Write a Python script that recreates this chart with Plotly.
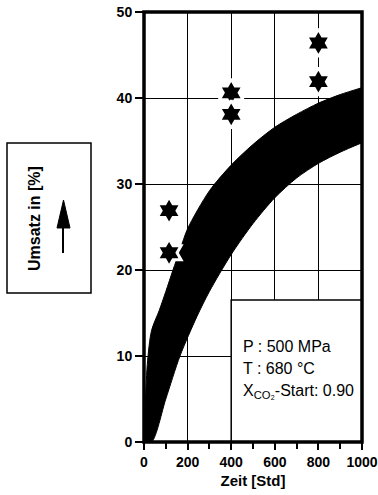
import plotly.graph_objects as go

# ---- data ----
band_upper_x = [0, 15, 35, 70, 100, 133, 165, 200, 300, 400, 500, 600, 700, 800, 900, 1000]
band_upper_y = [0, 9, 13, 15.3, 17.5, 20, 22.3, 24.8, 29.2, 32.2, 34.6, 36.6, 38.1, 39.4, 40.4, 41.2]
band_lower_x = [0, 35, 100, 165, 243, 300, 400, 500, 600, 700, 800, 900, 1000]
band_lower_y = [0, 0, 5, 10, 14.6, 17.5, 21.8, 25.4, 28.4, 30.7, 32.4, 33.7, 34.8]

star_x = [115, 115, 400, 400, 800, 800]
star_y = [26.9, 22.0, 40.6, 38.1, 46.4, 41.9]

x_ticks = [0, 200, 400, 600, 800, 1000]
y_ticks = [0, 10, 20, 30, 40, 50]

info_lines = ["P : 500 MPa", "T : 680 °C", "X<sub>CO₂</sub>-Start: 0.90"]

# ---- layout geometry (pixels) ----
W, H = 378, 495
L, R, T, B = 144, 16, 12, 53
PW, PH = W - L - R, H - T - B

def pxx(px):
    return (px - L) / PW

def pxy(py):
    return (H - B - py) / PH

FONT = "Liberation Sans, Arial, sans-serif"

fig = go.Figure()
fig.add_trace(go.Scatter(
    x=band_lower_x, y=band_lower_y, mode="lines",
    line=dict(color="black", width=1, shape="spline", smoothing=0.8),
    hoverinfo="skip", showlegend=False))
fig.add_trace(go.Scatter(
    x=band_upper_x, y=band_upper_y, mode="lines", fill="tonexty",
    fillcolor="black", line=dict(color="black", width=1, shape="spline", smoothing=0.8),
    hoverinfo="skip", showlegend=False))
fig.add_trace(go.Scatter(
    x=star_x, y=star_y, mode="markers",
    marker=dict(symbol="hexagram", size=21, color="black",
                line=dict(color="white", width=3)),
    showlegend=False))

shapes = []
# info box (lower right)
shapes.append(dict(type="rect", xref="x", yref="y", x0=400, x1=1000, y0=0, y1=16.5,
                   fillcolor="white", line=dict(color="black", width=1.5), layer="above"))
# frame
shapes.append(dict(type="rect", xref="paper", yref="paper", x0=0, x1=1, y0=0, y1=1,
                   line=dict(color="black", width=3.5), layer="above"))
# y-title box
shapes.append(dict(type="rect", xref="paper", yref="paper",
                   x0=pxx(7), x1=pxx(91), y0=pxy(293), y1=pxy(143),
                   line=dict(color="black", width=1.5)))
# arrow shaft
shapes.append(dict(type="line", xref="paper", yref="paper",
                   x0=pxx(63), x1=pxx(63), y0=pxy(253), y1=pxy(225),
                   line=dict(color="black", width=2)))
# arrow head
shapes.append(dict(type="path", xref="paper", yref="paper",
                   path=f"M {pxx(57)},{pxy(228)} L {pxx(70)},{pxy(228)} L {pxx(63.5)},{pxy(200)} Z",
                   fillcolor="black", line=dict(color="black", width=1)))

annotations = []
annotations.append(dict(xref="paper", yref="paper", x=pxx(35), y=pxy(219),
                        text="<b>Umsatz in [%]</b>", textangle=-90, showarrow=False,
                        font=dict(family=FONT, size=16, color="black"),
                        xanchor="center", yanchor="middle"))
for txt, py in zip(info_lines, [346, 368, 391]):
    annotations.append(dict(xref="x", yref="paper", x=447, y=pxy(py), text=txt,
                            showarrow=False, xanchor="left", yanchor="middle",
                            font=dict(family=FONT, size=16, color="black")))

fig.update_layout(
    width=W, height=H,
    margin=dict(l=L, r=R, t=T, b=B, pad=0, autoexpand=False),
    paper_bgcolor="white", plot_bgcolor="white",
    shapes=shapes, annotations=annotations,
    font=dict(family=FONT, color="black"),
    xaxis=dict(range=[0, 1000], tickvals=x_ticks,
               ticktext=[f"<b>{v}</b>" for v in x_ticks],
               ticks="outside", ticklen=7, tickwidth=1.5, tickcolor="black",
               minor=dict(dtick=100, tick0=0, ticks="outside", ticklen=6,
                          tickwidth=1.5, tickcolor="black", showgrid=False),
               showgrid=True, gridcolor="black", gridwidth=1,
               zeroline=False, showline=False, automargin=False,
               tickfont=dict(family=FONT, size=14, color="black"),
               title=dict(text="<b>Zeit [Std]</b>", standoff=6,
                          font=dict(family=FONT, size=15, color="black"))),
    yaxis=dict(range=[0, 50], tickvals=y_ticks,
               ticktext=[f"<b>{v}</b>" for v in y_ticks],
               ticks="outside", ticklen=8, tickwidth=1.5, tickcolor="black",
               showgrid=True, gridcolor="black", gridwidth=1,
               zeroline=False, showline=False, automargin=False,
               tickfont=dict(family=FONT, size=14, color="black")),
)

fig.write_html("out.html")
